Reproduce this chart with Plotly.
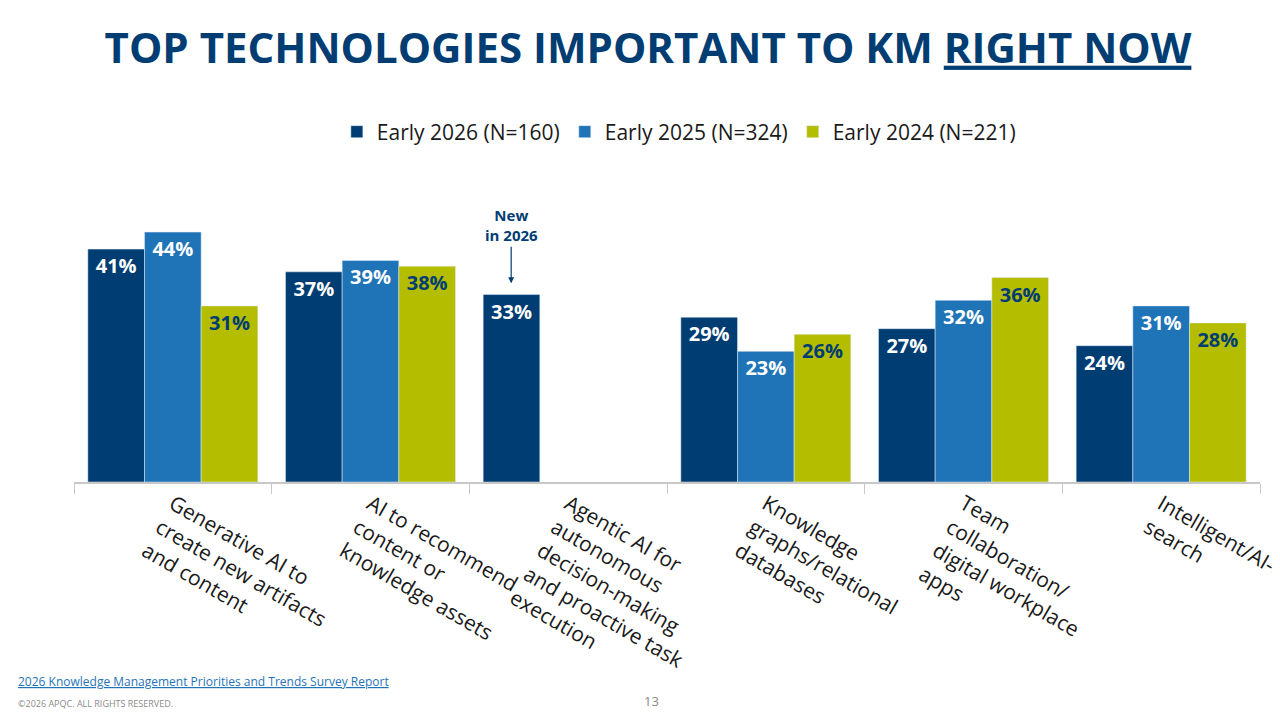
import plotly.graph_objects as go

categories = [
    "Generative AI to<br>create new artifacts<br>and content",
    "AI to recommend<br>content or<br>knowledge assets",
    "Agentic AI for<br>autonomous<br>decision-making<br>and proactive task<br>execution",
    "Knowledge<br>graphs/relational<br>databases",
    "Team<br>collaboration/<br>digital workplace<br>apps",
    "Intelligent/AI-driven<br>search",
]
early_2026 = [41, 37, 33, 29, 27, 24]
early_2025 = [44, 39, None, 23, 32, 31]
early_2024 = [31, 38, None, 26, 36, 28]

navy = "#003D73"
blue = "#1F74B8"
olive = "#B4BD00"
font = "Open Sans"

def labels(vals):
    return [f"<b>{v}%</b>" if v is not None else "" for v in vals]

fig = go.Figure()
for name, vals, col, tcol in [
    ("Early 2026 (N=160)", early_2026, navy, "white"),
    ("Early 2025 (N=324)", early_2025, blue, "white"),
    ("Early 2024 (N=221)", early_2024, olive, navy),
]:
    fig.add_trace(go.Bar(
        name=name, x=categories, y=vals, marker_color=col,
        text=labels(vals), textposition="inside", insidetextanchor="end",
        textfont=dict(color=tcol, size=20, family=font), textangle=0,
        cliponaxis=False,
    ))

L, R, T, B = 66, 28, 190, 241
pw, ph = 1280 - L - R, 715 - T - B

fig.update_layout(
    width=1280, height=715,
    margin=dict(l=L, r=R, t=T, b=B, autoexpand=False),
    plot_bgcolor="white", paper_bgcolor="white",
    font=dict(family=font, color="#1a1a1a"),
    barmode="group", bargap=0.14, bargroupgap=0,
    uniformtext=dict(minsize=20, mode="show"),
    title=dict(
        text="<b>TOP TECHNOLOGIES IMPORTANT TO KM <u>RIGHT NOW</u></b>",
        x=0.5, xanchor="center", y=1 - 40 / 715, yanchor="middle",
        font=dict(size=42, color=navy, family=font),
    ),
    legend=dict(
        orientation="h", x=0.51, xanchor="center", y=1 - 124 / 715,
        yref="container", yanchor="middle", itemwidth=30,
        font=dict(size=21, color="#1a1a1a"), traceorder="normal",
    ),
    showlegend=True,
)
fig.update_xaxes(
    automargin=False,
    showline=True, linecolor="#c8c8c8", linewidth=1.5,
    ticks="outside", tickson="boundaries", ticklen=10, tickcolor="#c8c8c8",
    tickfont=dict(size=21, color="#1a1a1a"),
)
fig.update_yaxes(range=[0, 50], visible=False, automargin=False)

fig.add_annotation(
    x=categories[2], y=35, xshift=-57, text="<b>New<br>in 2026</b>",
    showarrow=True, arrowhead=2, arrowsize=1, arrowwidth=1.2, arrowcolor=navy,
    ax=0, ay=-58, font=dict(size=15, color=navy, family=font),
)
fig.add_annotation(
    x=(8 - L) / pw, xref="paper", y=-(684 - 474) / ph, yref="paper",
    showarrow=False, xanchor="left",
    text="<u>2026 Knowledge Management Priorities and Trends Survey Report</u>",
    font=dict(size=12, color="#1F74B8"),
)
fig.add_annotation(
    x=(8 - L) / pw, xref="paper", y=-(704 - 474) / ph, yref="paper",
    showarrow=False, xanchor="left",
    text="©2026 APQC. ALL RIGHTS RESERVED.",
    font=dict(size=9, color="#8a8a8a"),
)
fig.add_annotation(
    x=(643 - L) / pw, xref="paper", y=-(704 - 474) / ph,
    yref="paper", showarrow=False, text="13",
    font=dict(size=13, color="#8a8a8a"),
)

fig.write_html("out.html")
